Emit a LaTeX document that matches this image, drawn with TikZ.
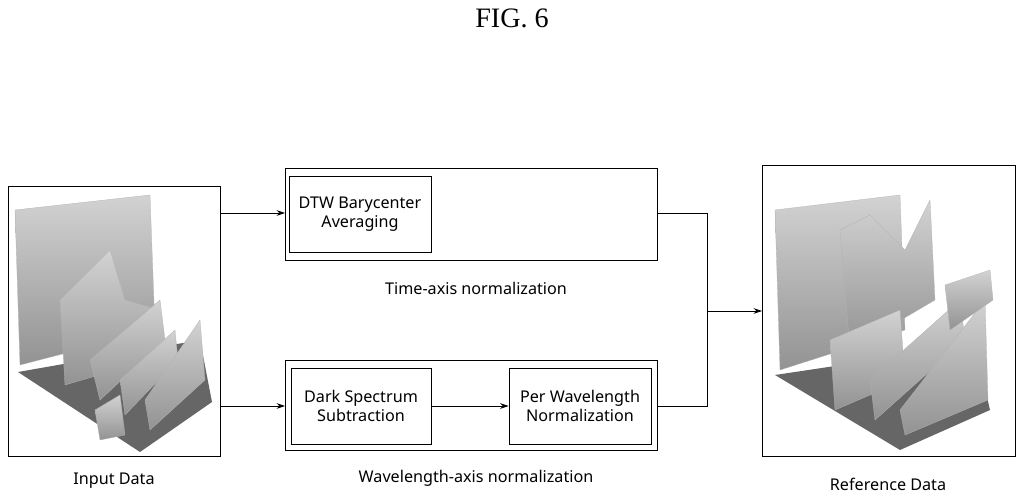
\documentclass[tikz,border=0pt]{standalone}
\usepackage{fontspec}
\setmainfont{Liberation Serif}
\newfontfamily\lab{Noto Sans}
\usetikzlibrary{arrows.meta}
\begin{document}
\begin{tikzpicture}[x=0.025cm,y=-0.025cm,
  box/.style={draw,line width=0.7pt},
  inner/.style={draw,line width=0.7pt,align=center,font=\lab\fontsize{11.5}{13.5}\selectfont},
  lbl/.style={font=\lab\fontsize{11.5}{13.5}\selectfont},
  arr/.style={-{Stealth[length=6pt,width=4pt]},line width=0.6pt},
  ln/.style={line width=0.6pt},
  slab/.style={top color=gray!35,bottom color=gray!85,draw=gray!60,line width=0.2pt}]
\useasboundingbox (0,0) rectangle (1024,498);
\node[font=\fontsize{20}{22}\selectfont] (title) at (512,18) {FIG. 6};
% input
\draw[box] (8,186) rectangle (220,456);
\node[lbl] (inlab) at (114,481) {Input Data};
\fill[gray!80!black] (18,372) -- (140,452) -- (212,402) -- (200,340) -- cycle;
\shade[slab] (15,210) -- (150,195) -- (155,330) -- (20,365) -- cycle;
\shade[slab] (60,300) -- (110,250) -- (125,300) -- (160,310) -- (150,360) -- (65,385) -- cycle;
\shade[slab] (90,360) -- (160,300) -- (165,340) -- (100,400) -- cycle;
\shade[slab] (120,380) -- (175,330) -- (178,360) -- (125,415) -- cycle;
\shade[slab] (145,400) -- (200,320) -- (205,380) -- (150,430) -- cycle;
\shade[slab] (95,410) -- (120,395) -- (125,435) -- (100,440) -- cycle;
% reference
\draw[box] (762,165) rectangle (1015,456);
\node[lbl] (reflab) at (888,484) {Reference Data};
\fill[gray!80!black] (775,375) -- (900,450) -- (990,410) -- (975,345) -- cycle;
\shade[slab] (775,210) -- (900,195) -- (905,330) -- (780,370) -- cycle;
\shade[slab] (840,230) -- (870,215) -- (905,250) -- (930,200) -- (935,300) -- (850,350) -- cycle;
\shade[slab] (830,340) -- (900,310) -- (905,380) -- (835,410) -- cycle;
\shade[slab] (870,380) -- (960,300) -- (965,340) -- (875,420) -- cycle;
\shade[slab] (900,410) -- (985,300) -- (988,400) -- (905,435) -- cycle;
\shade[slab] (945,285) -- (990,270) -- (993,300) -- (950,330) -- cycle;
% top
\draw[box] (285,168) rectangle (657,260);
\node[inner,minimum width=142*0.025cm,minimum height=76*0.025cm] (dtw) at (360,214) {DTW Barycenter\\Averaging};
\node[lbl] (tlab) at (476,288) {Time-axis normalization};
% bottom
\draw[box] (285,360) rectangle (657,450);
\node[inner,minimum width=140*0.025cm,minimum height=76*0.025cm] (dark) at (361,406) {Dark Spectrum\\Subtraction};
\node[inner,minimum width=142*0.025cm,minimum height=76*0.025cm] (per) at (580,406) {Per Wavelength\\Normalization};
\node[lbl] (wlab) at (476,478) {Wavelength-axis normalization};
\coordinate (ti) at (285,213);
\coordinate (bi) at (285,406);
\draw[arr] (220,213) -- (ti);
\draw[arr] (220,406) -- (bi);
\draw[arr] (dark) -- (per);
\coordinate (j) at (707,311);
\draw[ln] (657,213) -- (707,213) -- (j);
\draw[ln] (657,406) -- (707,406) -- (j);
\draw[arr] (j) -- (762,311);
\end{tikzpicture}
\end{document}
